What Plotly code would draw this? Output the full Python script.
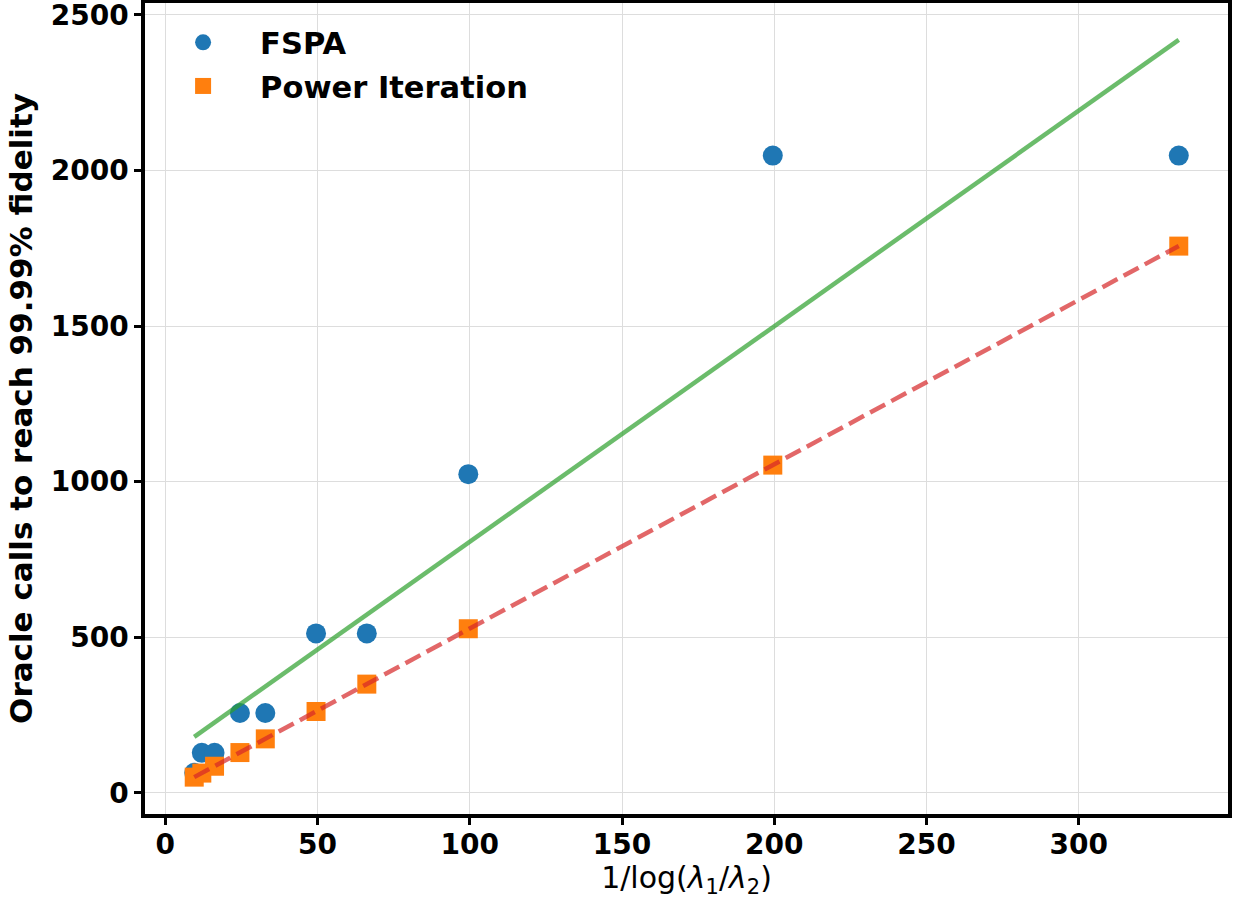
import numpy as np
import plotly.graph_objects as go

# Data
x_vals = [9.49, 11.98, 16.16, 24.50, 32.83, 49.50, 66.17, 99.50, 199.50, 332.83]
fspa_calls = [64, 128, 128, 256, 256, 512, 512, 1024, 2048, 2048]
power_calls = [50, 63, 85, 129, 173, 261, 349, 527, 1053, 1757]
x_ticks = [0, 50, 100, 150, 200, 250, 300]
y_ticks = [0, 500, 1000, 1500, 2000, 2500]

x = np.array(x_vals)
fs_fit = np.polyfit(x, np.array(fspa_calls), 1)
pw_fit = np.polyfit(x, np.array(power_calls), 1)
xl = np.array([x.min(), x.max()])
fs_line = np.polyval(fs_fit, xl)
pw_line = np.polyval(pw_fit, xl)

# matplotlib-like 5% margins
xmin, xmax = x.min(), x.max()
ally = np.concatenate([fspa_calls, power_calls, fs_line, pw_line])
ymin, ymax = ally.min(), ally.max()
xr = [xmin - 0.05 * (xmax - xmin), xmax + 0.05 * (xmax - xmin)]
yr = [ymin - 0.05 * (ymax - ymin), ymax + 0.05 * (ymax - ymin)]

FONT = "DejaVu Sans"

fig = go.Figure()
fig.add_trace(go.Scatter(x=x_vals, y=fspa_calls, mode="markers", name="FSPA",
                         legendgroup="a",
                         marker=dict(color="#1f77b4", size=20, symbol="circle")))
fig.add_trace(go.Scatter(x=x_vals, y=power_calls, mode="markers", name="Power Iteration",
                         legendgroup="b",
                         marker=dict(color="#ff7f0e", size=19, symbol="square")))
fig.add_trace(go.Scatter(x=xl, y=fs_line, mode="lines", showlegend=False,
                         line=dict(color="rgba(44,160,44,0.7)", width=4.5)))
fig.add_trace(go.Scatter(x=xl, y=pw_line, mode="lines", showlegend=False,
                         line=dict(color="rgba(214,39,40,0.7)", width=4.5, dash="17px,7px")))

axis_common = dict(
    showline=True, mirror=True, linewidth=3.5, linecolor="black",
    showgrid=True, gridcolor="#dddddd", gridwidth=1.2, zeroline=False,
    ticks="outside", ticklen=7, tickwidth=2.5, tickcolor="black",
    tickfont=dict(family=FONT, size=28, color="black", weight="bold"),
    ticklabeloverflow="allow",
)

fig.update_xaxes(range=xr, tickvals=x_ticks, ticktext=[str(t) for t in x_ticks],
                 ticklabelstandoff=-4,
                 title=dict(text="1/log(<i>λ</i><sub>1</sub>/<i>λ</i><sub>2</sub>)",
                            font=dict(family=FONT, size=30, color="black"), standoff=6),
                 **axis_common)
fig.update_yaxes(range=yr, tickvals=y_ticks, ticktext=[str(t) for t in y_ticks],
                 title=dict(text="Oracle calls to reach 99.99% fidelity",
                            font=dict(family=FONT, size=31, color="black", weight="bold"),
                            standoff=10),
                 **axis_common)

fig.update_layout(
    width=1233, height=899,
    margin=dict(l=145, r=5, t=3, b=85, autoexpand=False),
    plot_bgcolor="white", paper_bgcolor="white",
    font=dict(family=FONT, color="black"),
    legend=dict(x=0.001, y=0.984, xanchor="left", yanchor="top",
                bgcolor="rgba(0,0,0,0)", borderwidth=0,
                traceorder="grouped", tracegroupgap=1,
                font=dict(family=FONT, size=30.5, color="black", weight="bold"),
                itemwidth=104),
)

fig.write_html("out.html")
